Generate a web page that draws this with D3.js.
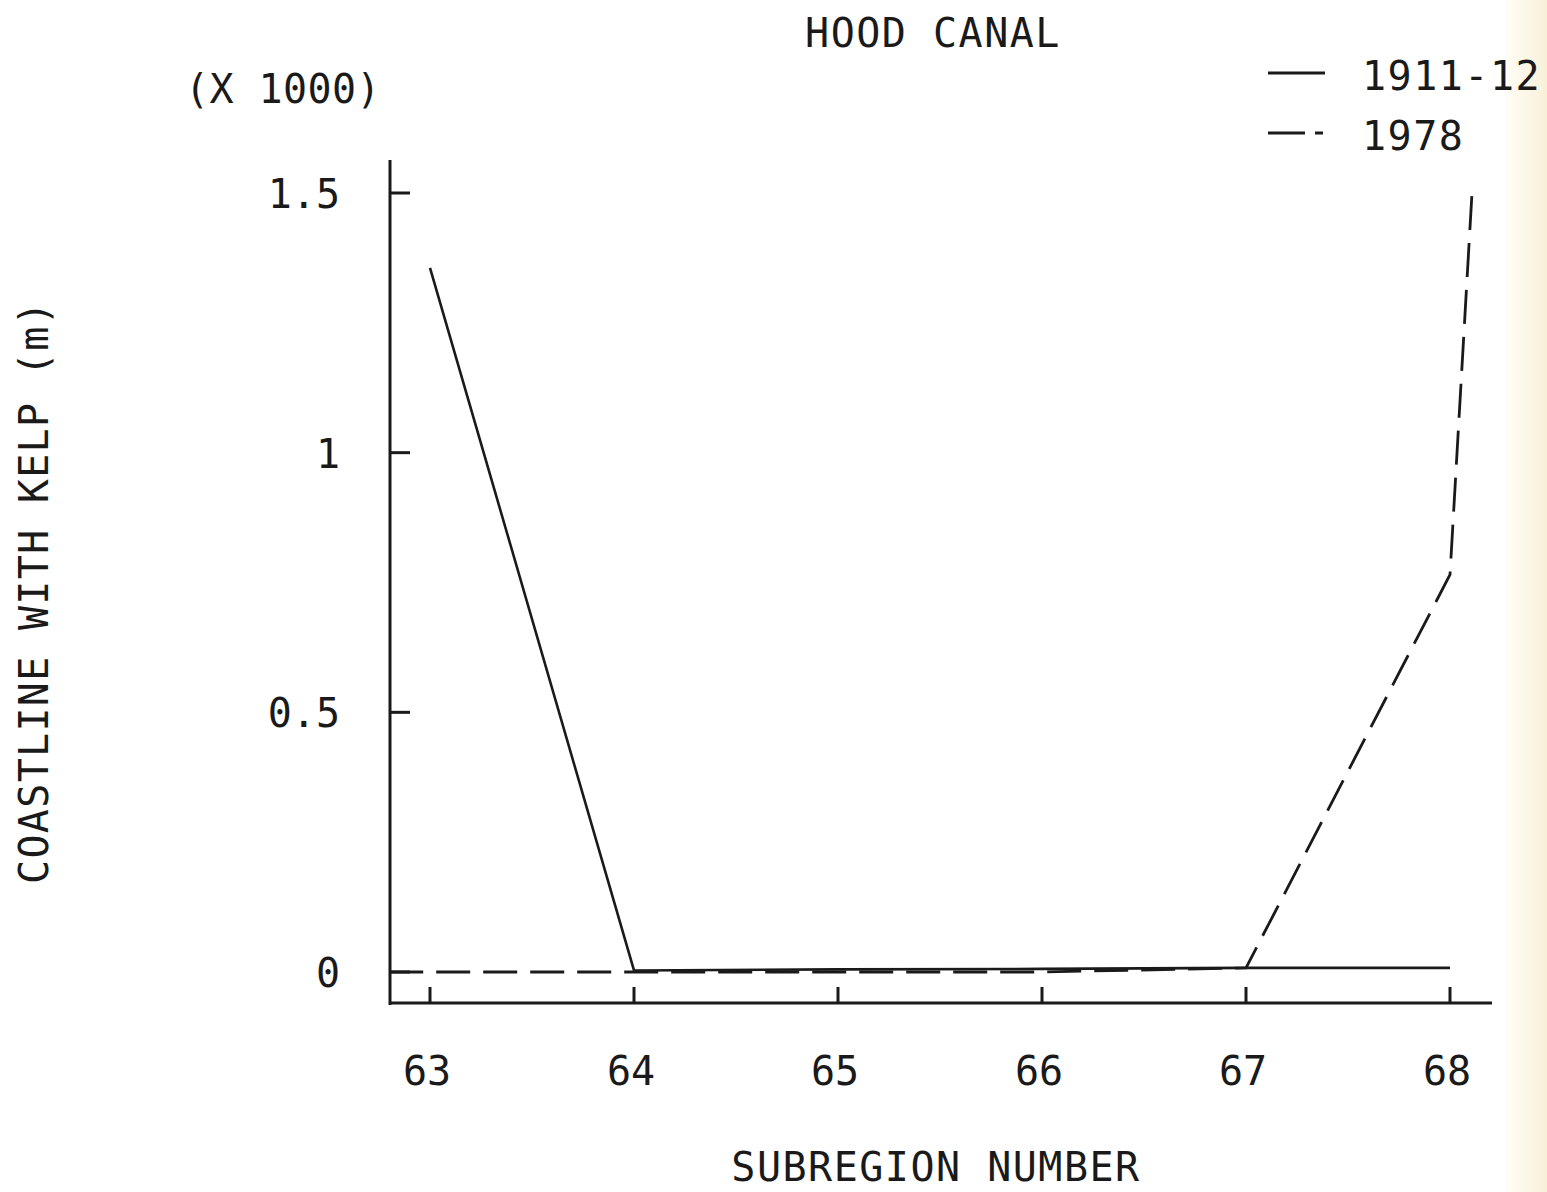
<!DOCTYPE html>
<html><head><meta charset="utf-8">
<script src="https://cdn.jsdelivr.net/npm/d3@7"></script>
<style>body{margin:0;background:#fff}text{font-family:"DejaVu Sans Mono",monospace;fill:#1a1a1a}</style>
</head><body>
<svg id="c" width="1547" height="1192"></svg>
<script>
const title = "HOOD CANAL";
const xLabel = "SUBREGION NUMBER";
const yLabel = "COASTLINE WITH KELP (m)";
const yUnit = "(X 1000)";
const subregions = [63, 64, 65, 66, 67, 68];
const yTicks = [0, 0.5, 1, 1.5];
const yTickLabels = ["0", "0.5", "1", "1.5"];
const series1911 = [
  {x: 63, y: 1.356}, {x: 64, y: 0.003}, {x: 65, y: 0.005},
  {x: 66, y: 0.006}, {x: 67, y: 0.008}, {x: 68, y: 0.008}
];
const series1978 = [
  {x: 62.8, y: 0}, {x: 63, y: 0}, {x: 64, y: 0}, {x: 65, y: 0},
  {x: 66, y: 0}, {x: 67, y: 0.008}, {x: 68, y: 0.765}, {x: 68.11, y: 1.515}
];
const legendNames = ["1911-12", "1978"];

const svg = d3.select("#c");
const x = d3.scaleLinear().domain([63, 68]).range([430, 1450]);
const y = d3.scaleLinear().domain([0, 1.5]).range([972, 193]);
const ink = "#1a1a1a";

// paper tint on right edge
const defs = svg.append("defs");
const g = defs.append("linearGradient").attr("id","tint").attr("x1","0").attr("x2","1");
g.append("stop").attr("offset","0").attr("stop-color","#fffdf6");
g.append("stop").attr("offset","1").attr("stop-color","#f8f0d8");
svg.append("rect").attr("x",1505).attr("y",0).attr("width",42).attr("height",1192).attr("fill","url(#tint)");

// axes lines
const x0 = 390, yAxisBottom = 1003;
svg.append("line").attr("x1",x0).attr("x2",x0).attr("y1",160).attr("y2",yAxisBottom+2)
  .attr("stroke",ink).attr("stroke-width",3);
svg.append("line").attr("x1",x0).attr("x2",1492).attr("y1",yAxisBottom).attr("y2",yAxisBottom)
  .attr("stroke",ink).attr("stroke-width",3);

// y ticks
svg.selectAll(".yt").data(yTicks).join("line")
  .attr("x1",x0).attr("x2",x0+20).attr("y1",d=>y(d)).attr("y2",d=>y(d))
  .attr("stroke",ink).attr("stroke-width",3);
svg.selectAll(".yl").data(yTicks).join("text")
  .attr("x",340).attr("y",d=>y(d)+15).attr("text-anchor","end")
  .attr("font-size",40).text((d,i)=>yTickLabels[i]);

// x ticks
svg.selectAll(".xt").data(subregions).join("line")
  .attr("x1",d=>x(d)).attr("x2",d=>x(d)).attr("y1",yAxisBottom).attr("y2",yAxisBottom-16)
  .attr("stroke",ink).attr("stroke-width",3);
svg.selectAll(".xl").data(subregions).join("text")
  .attr("x",d=>x(d)-3).attr("y",1085).attr("text-anchor","middle")
  .attr("font-size",40).text(d=>d);

// lines
const line = d3.line().x(d=>x(d.x)).y(d=>y(d.y));
svg.append("path").datum(series1911).attr("d",line).attr("fill","none")
  .attr("stroke",ink).attr("stroke-width",2.6);
svg.append("path").datum(series1978).attr("d",line).attr("fill","none")
  .attr("stroke",ink).attr("stroke-width",2.8).attr("stroke-dasharray","34,13");

// titles
svg.append("text").attr("x",933).attr("y",47).attr("text-anchor","middle")
  .attr("font-size",40).attr("letter-spacing",1.5).text(title);
svg.append("text").attr("x",936).attr("y",1181).attr("text-anchor","middle")
  .attr("font-size",40).attr("letter-spacing",1.5).text(xLabel);
svg.append("text").attr("transform","translate(48,592) rotate(-90)").attr("text-anchor","middle")
  .attr("font-size",40).attr("letter-spacing",1.3).text(yLabel);
svg.append("text").attr("x",185).attr("y",103)
  .attr("font-size",40).attr("letter-spacing",0.4).text(yUnit);

// legend
const legY = [73, 133];
svg.append("line").attr("x1",1268).attr("x2",1325).attr("y1",legY[0]).attr("y2",legY[0])
  .attr("stroke",ink).attr("stroke-width",2.8);
svg.append("line").attr("x1",1268).attr("x2",1323).attr("y1",legY[1]).attr("y2",legY[1])
  .attr("stroke",ink).attr("stroke-width",2.8).attr("stroke-dasharray","37,10,8,10");
svg.selectAll(".lg").data(legendNames).join("text")
  .attr("x",1362).attr("y",(d,i)=>legY[i]+17).attr("font-size",40).attr("letter-spacing",1.5)
  .text(d=>d);
</script>
</body></html>
